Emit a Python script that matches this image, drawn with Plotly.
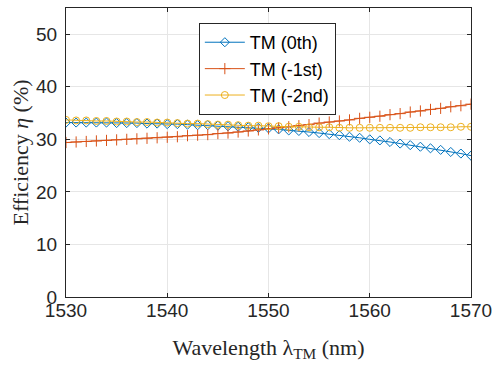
import plotly.graph_objects as go

wavelength = list(range(1530, 1571))

tm_0th = [33.2, 33.2, 33.2, 33.2, 33.2, 33.1, 33.1, 33.1, 33.0, 33.0,
          32.9, 32.9, 32.8, 32.7, 32.7, 32.6, 32.5, 32.4, 32.3, 32.2,
          32.1, 31.9, 31.7, 31.6, 31.4, 31.2, 31.0, 30.8, 30.5, 30.3,
          30.0, 29.8, 29.5, 29.2, 28.9, 28.6, 28.3, 28.0, 27.6, 27.3, 26.9]

tm_m1st = [29.4, 29.5, 29.6, 29.7, 29.8, 29.9, 30.0, 30.1, 30.2, 30.3,
           30.4, 30.5, 30.7, 30.8, 30.9, 31.1, 31.2, 31.4, 31.6, 31.8,
           32.0, 32.2, 32.4, 32.6, 32.8, 33.1, 33.3, 33.5, 33.7, 34.0,
           34.2, 34.4, 34.7, 34.9, 35.2, 35.4, 35.7, 35.9, 36.2, 36.4, 36.7]

tm_m2nd = [33.7, 33.6, 33.6, 33.5, 33.5, 33.4, 33.4, 33.3, 33.3, 33.2,
           33.2, 33.1, 33.0, 33.0, 32.9, 32.8, 32.8, 32.7, 32.6, 32.6,
           32.5, 32.5, 32.4, 32.4, 32.3, 32.3, 32.3, 32.2, 32.2, 32.2,
           32.2, 32.2, 32.2, 32.2, 32.2, 32.3, 32.3, 32.3, 32.3, 32.4, 32.4]

x_ticks = [1530, 1540, 1550, 1560, 1570]
y_ticks = [0, 10, 20, 30, 40, 50]

fig = go.Figure()
fig.add_trace(go.Scatter(x=wavelength, y=tm_0th, name="TM (0th)", mode="lines+markers",
                         line=dict(color="#0072BD", width=1),
                         marker=dict(symbol="diamond-open", size=7, color="#0072BD", line=dict(width=1))))
fig.add_trace(go.Scatter(x=wavelength, y=tm_m1st, name="TM (-1st)", mode="lines+markers",
                         line=dict(color="#D95319", width=1),
                         marker=dict(symbol="cross-thin-open", size=8, color="#D95319", line=dict(width=1, color="#D95319"))))
fig.add_trace(go.Scatter(x=wavelength, y=tm_m2nd, name="TM (-2nd)", mode="lines+markers",
                         line=dict(color="#EDB120", width=1),
                         marker=dict(symbol="circle-open", size=7, color="#EDB120", line=dict(width=1))))

axis_common = dict(showline=True, linecolor="#262626", linewidth=1, mirror="ticks",
                   ticks="inside", ticklen=4, tickcolor="#262626", automargin=False,
                   showgrid=True, gridcolor="#E6E6E6", gridwidth=1, zeroline=False,
                   tickfont=dict(family="Liberation Sans, Arial", size=19, color="#262626"))

fig.update_xaxes(range=[1530, 1570], tickvals=x_ticks, ticklabelstandoff=-4,
                 title=dict(text="Wavelength λ<sub>TM</sub> (nm)",
                            font=dict(family="Liberation Serif, Times New Roman", size=22, color="#262626"),
                            standoff=19),
                 **axis_common)
fig.update_yaxes(range=[0, 55], tickvals=y_ticks, ticklabelstandoff=4,
                 title=dict(text="Efficiency <i>η</i> (%)",
                            font=dict(family="Liberation Serif, Times New Roman", size=22, color="#262626"),
                            standoff=1),
                 **axis_common)

fig.update_layout(width=497, height=369, margin=dict(l=66, r=26, t=8, b=72, autoexpand=False),
                  paper_bgcolor="white", plot_bgcolor="white",
                  legend=dict(x=0.328, y=0.948, xanchor="left", yanchor="top",
                              bgcolor="white", bordercolor="#262626", borderwidth=1,
                              font=dict(family="Liberation Sans, Arial", size=18, color="#000000"),
                              itemwidth=40, tracegroupgap=0))

fig.write_html("out.html", config={"displayModeBar": False},
               post_script="document.body.style.margin='0';")
